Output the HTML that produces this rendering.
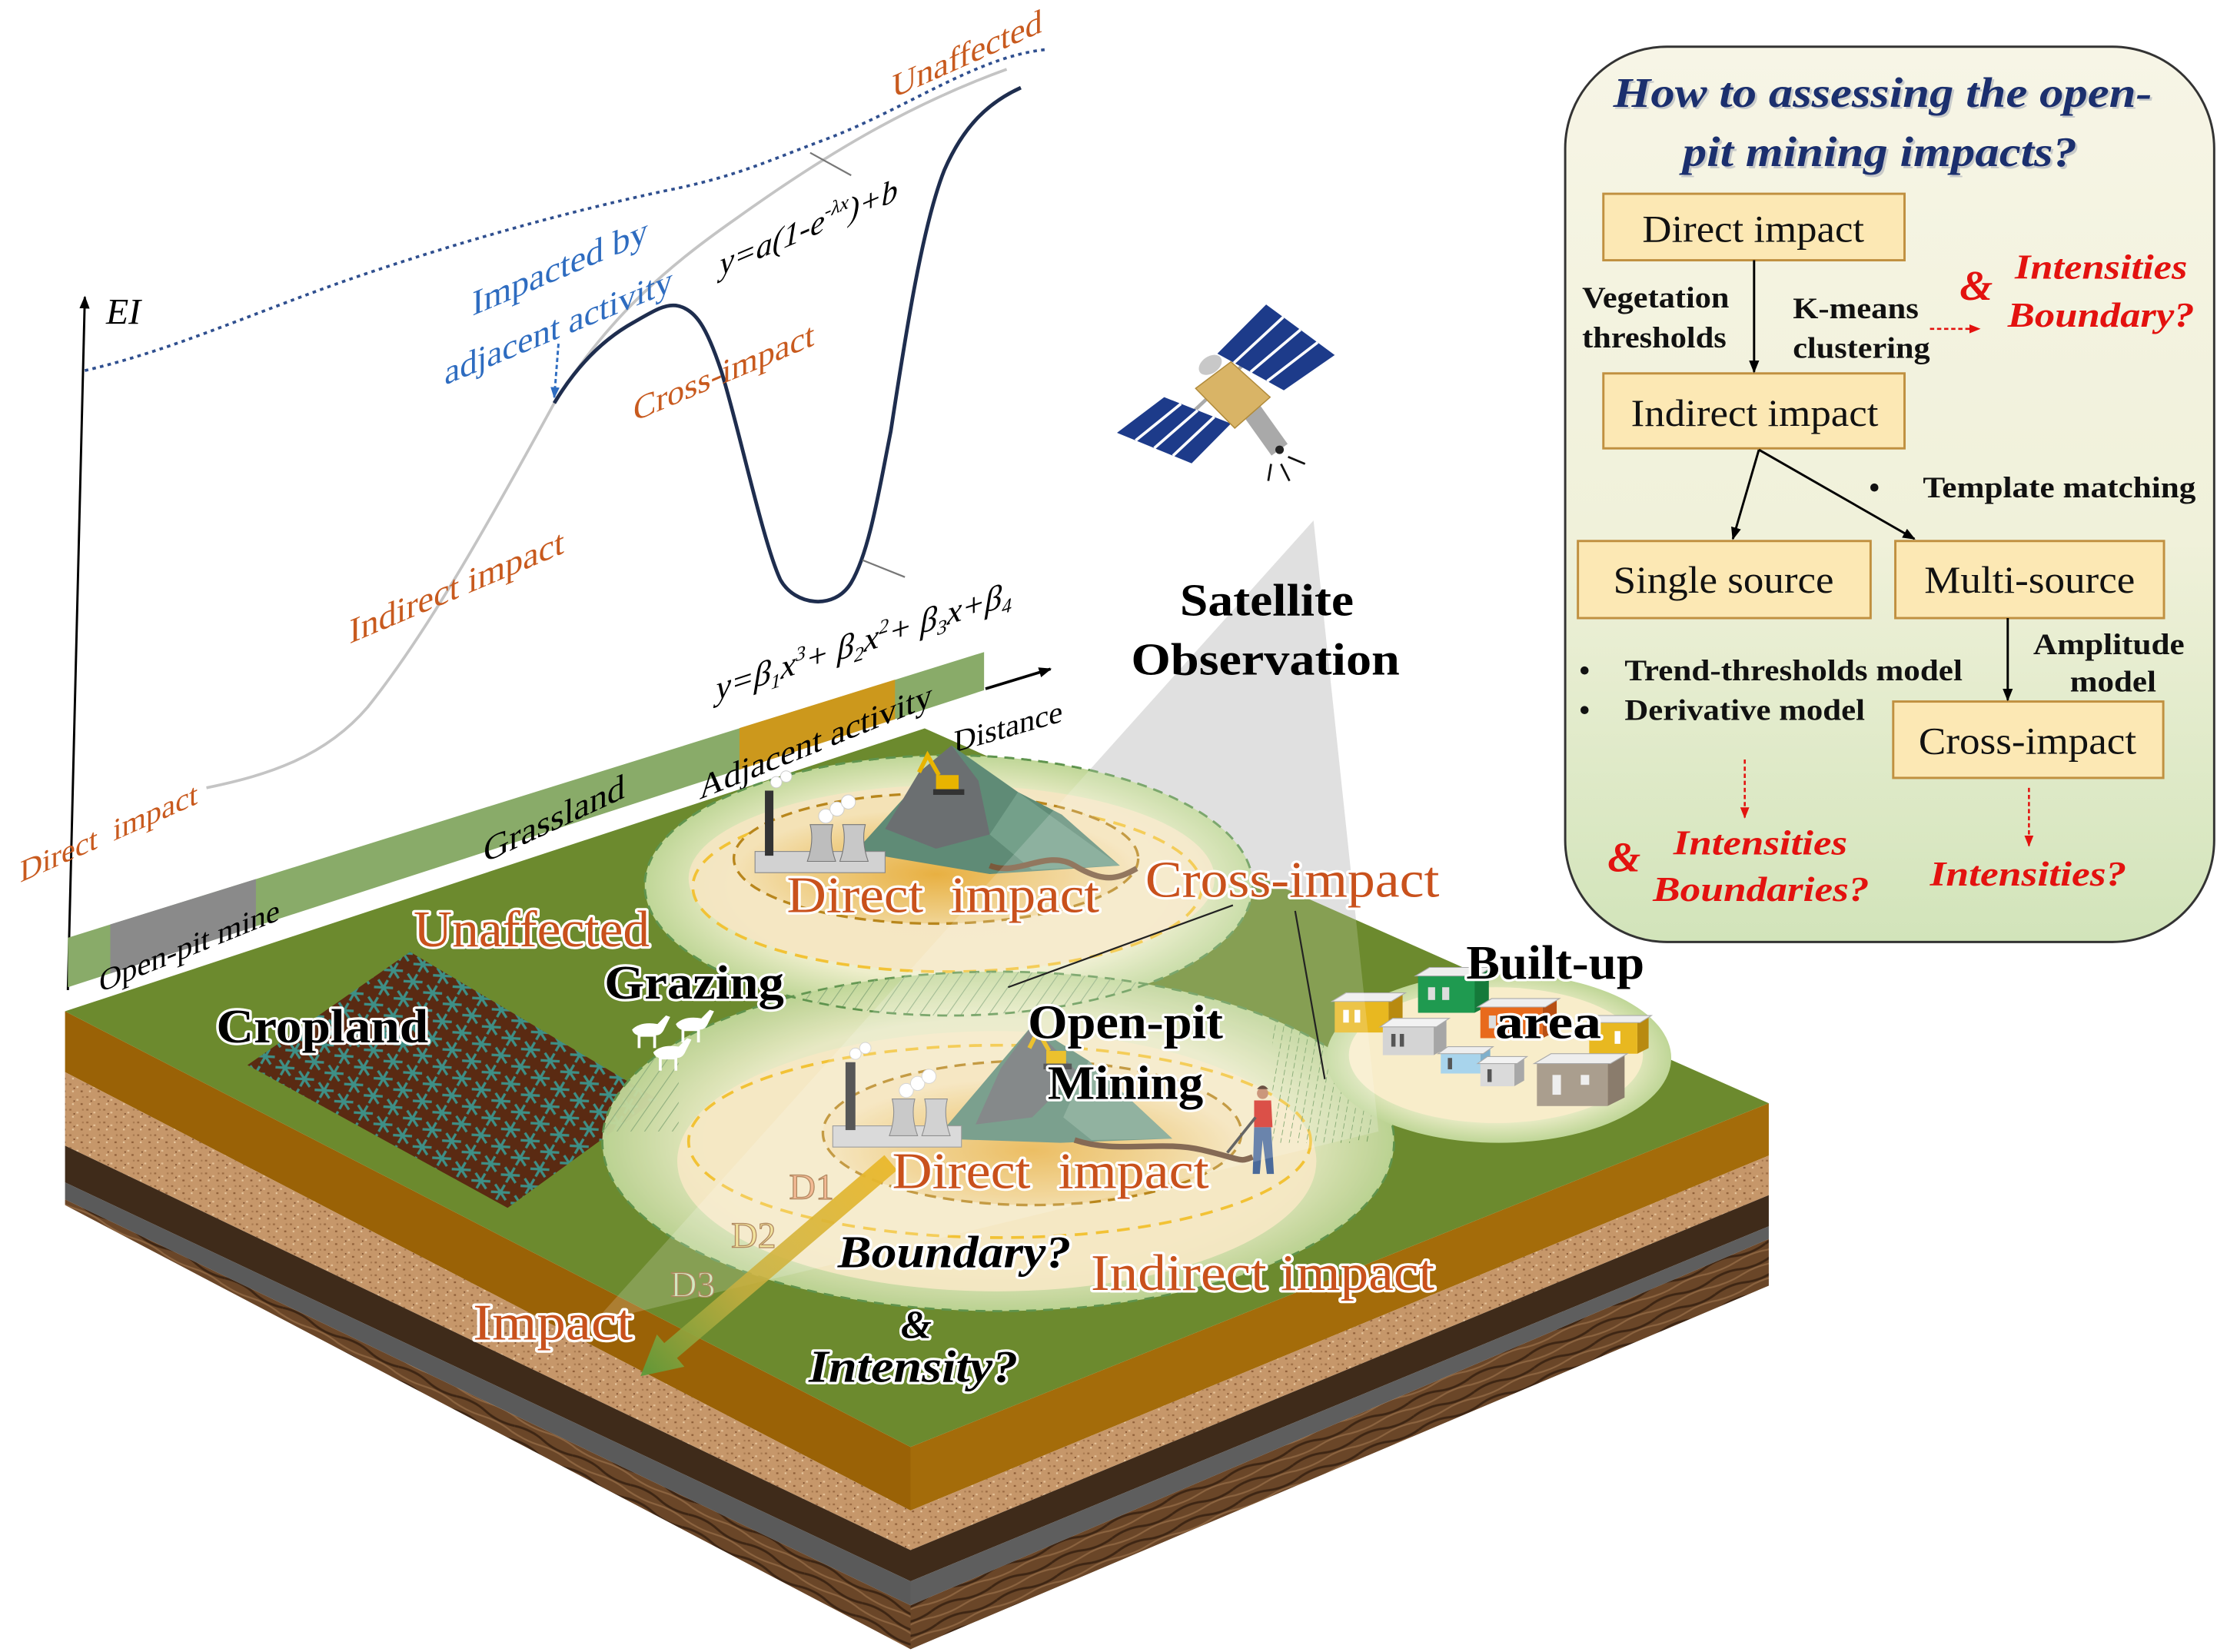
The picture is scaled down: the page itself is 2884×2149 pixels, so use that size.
<!DOCTYPE html>
<html><head><meta charset="utf-8">
<style>
html,body{margin:0;padding:0;background:#fff;}
svg{display:block;}
text{font-family:"Liberation Serif","DejaVu Serif",serif;}
.ol{stroke:#fff;stroke-width:3.5;paint-order:stroke;stroke-linejoin:round;}
.or{fill:#c9511c;}
.bk{fill:#000;font-weight:bold;}
.bx{fill:#111;}
.bd{fill:#111;font-weight:bold;}
.rd{fill:#e3120f;font-weight:bold;font-style:italic;}
</style></head>
<body>
<svg xmlns="http://www.w3.org/2000/svg" width="2884" height="2149" viewBox="0 0 1568 1168" preserveAspectRatio="none">
<defs>
 <linearGradient id="boxg" x1="0" y1="0" x2="0" y2="1">
  <stop offset="0" stop-color="#f7f5e6"/>
  <stop offset="0.55" stop-color="#f0f1da"/>
  <stop offset="1" stop-color="#d2e4ba"/>
 </linearGradient>
 <radialGradient id="halo" cx="0.5" cy="0.5" r="0.5">
  <stop offset="0" stop-color="#f6ebcd"/>
  <stop offset="0.72" stop-color="#eeeecb"/>
  <stop offset="1" stop-color="#bfd697"/>
 </radialGradient>
 <radialGradient id="direct" cx="0.5" cy="0.62" r="0.5">
  <stop offset="0" stop-color="#e8b042"/>
  <stop offset="0.65" stop-color="#efcf88"/>
  <stop offset="1" stop-color="#f4e2b6"/>
 </radialGradient>
 <linearGradient id="arrowg" x1="630" y1="822" x2="453" y2="973" gradientUnits="userSpaceOnUse">
  <stop offset="0" stop-color="#eab82c" stop-opacity="0.95"/>
  <stop offset="0.6" stop-color="#c9b040" stop-opacity="0.85"/>
  <stop offset="1" stop-color="#5c9a3a" stop-opacity="0.95"/>
 </linearGradient>
 <pattern id="sand" width="12" height="9" patternUnits="userSpaceOnUse">
  <rect width="12" height="9" fill="#c6976a"/>
  <rect x="1" y="1" width="1.5" height="1.2" fill="#9a6a42"/>
  <rect x="6" y="3" width="1.5" height="1.2" fill="#e4c198"/>
  <rect x="9" y="6" width="1.5" height="1.2" fill="#8e5e38"/>
  <rect x="3" y="6" width="1.2" height="1.2" fill="#e8c8a0"/>
  <rect x="10" y="1" width="1.2" height="1.2" fill="#a87a50"/>
  <rect x="4" y="4" width="1" height="1" fill="#7e5030"/>
 </pattern>
 <pattern id="soilL" width="46" height="10" patternUnits="userSpaceOnUse" patternTransform="rotate(27)">
  <rect width="46" height="10" fill="#6a4628"/>
  <path d="M0,3 Q12,0 23,3 T46,3" stroke="#3e2614" stroke-width="1.6" fill="none"/>
  <path d="M0,7.5 Q12,9 23,7 T46,7.5" stroke="#8c6440" stroke-width="1.2" fill="none"/>
 </pattern>
 <pattern id="soilR" width="46" height="10" patternUnits="userSpaceOnUse" patternTransform="rotate(-22)">
  <rect width="46" height="10" fill="#6a4628"/>
  <path d="M0,3 Q12,0 23,3 T46,3" stroke="#3e2614" stroke-width="1.6" fill="none"/>
  <path d="M0,7.5 Q12,9 23,7 T46,7.5" stroke="#8c6440" stroke-width="1.2" fill="none"/>
 </pattern>
 <pattern id="crop" width="16" height="14" patternUnits="userSpaceOnUse" patternTransform="rotate(30)">
  <rect width="16" height="14" fill="#5a2a12"/>
  <path d="M8,1 L8,13 M2,4 L14,10 M2,10 L14,4" stroke="#3e8f86" stroke-width="1.8"/>
 </pattern>
 <pattern id="hatchD" width="8" height="8" patternUnits="userSpaceOnUse" patternTransform="rotate(35)">
  <line x1="0" y1="0" x2="0" y2="8" stroke="#8fae7e" stroke-width="1.2"/>
 </pattern>
 <pattern id="hatchV" width="6" height="6" patternUnits="userSpaceOnUse" patternTransform="rotate(10)">
  <line x1="0" y1="0" x2="0" y2="6" stroke="#6f9a5a" stroke-width="1" stroke-dasharray="3 2"/>
 </pattern>
 <clipPath id="cUp"><ellipse cx="671" cy="626" rx="215" ry="92"/></clipPath>
 <clipPath id="cLow"><ellipse cx="706" cy="807" rx="280" ry="120"/></clipPath>
 <marker id="ab" viewBox="0 0 10 10" refX="9" refY="5" markerWidth="9" markerHeight="9" orient="auto" markerUnits="userSpaceOnUse"><path d="M0,1 L10,5 L0,9 Z" fill="#000"/></marker>
 <marker id="ar" viewBox="0 0 10 10" refX="9" refY="5" markerWidth="8" markerHeight="8" orient="auto" markerUnits="userSpaceOnUse"><path d="M0,1 L10,5 L0,9 Z" fill="#e3120f"/></marker>
 <marker id="abl" viewBox="0 0 10 10" refX="9" refY="5" markerWidth="8" markerHeight="8" orient="auto" markerUnits="userSpaceOnUse"><path d="M0,1 L10,5 L0,9 Z" fill="#2e6cc0"/></marker>
</defs>

<rect width="1568" height="1168" fill="#fff"/>

<!-- satellite beam (background part) -->
<polygon points="929,368 420,935 975,800" fill="#d9d9d9"/>

<!-- ================= CHART ================= -->
<path d="M60,262 C120,248 170,225 240,200 C320,172 400,150 470,135 C520,125 540,115 580,100 C640,78 690,40 740,35" fill="none" stroke="#2f4f8f" stroke-width="2" stroke-dasharray="2.5 3"/>
<path d="M146,557 C190,548 230,535 260,500 C300,450 340,380 392,285 C430,225 470,190 520,155 C580,112 640,75 712,49" fill="none" stroke="#c4c4c4" stroke-width="2"/>
<path d="M392,285 C410,255 430,238 448,228 C462,220 470,215 478,216 C492,218 500,232 510,262 C522,300 540,385 552,410 C562,428 590,432 602,412 C615,390 622,345 630,305 C640,240 652,160 668,120 C682,88 700,72 722,62" fill="none" stroke="#1e2d4e" stroke-width="2.6"/>
<line x1="573" y1="108" x2="602" y2="124" stroke="#777" stroke-width="1.2"/>
<line x1="610" y1="396" x2="640" y2="408" stroke="#777" stroke-width="1.2"/>
<line x1="48" y1="700" x2="60" y2="210" stroke="#000" stroke-width="1.6" marker-end="url(#ab)"/>
<text x="75" y="229" font-size="26" fill="#000" font-style="italic">EI</text>
<line x1="395" y1="243" x2="392" y2="281" stroke="#2e6cc0" stroke-width="1.6" stroke-dasharray="3 2" marker-end="url(#abl)"/>

<text transform="translate(684,38) skewY(-24)" x="0" y="8" text-anchor="middle" font-size="24" fill="#c85a1e">Unaffected</text>
<text transform="translate(572,160) skewY(-23)" x="0" y="8" text-anchor="middle" font-size="23" fill="#000" font-style="italic">y=a(1-e<tspan dy="-9" font-size="14">-λx</tspan><tspan dy="9">)+b</tspan></text>
<text transform="translate(396,189) skewY(-23)" x="0" y="8" text-anchor="middle" font-size="25" fill="#2e6cc0">Impacted by</text>
<text transform="translate(395,231) skewY(-22.5)" x="0" y="8" text-anchor="middle" font-size="24.5" fill="#2e6cc0">adjacent activity</text>
<text transform="translate(512,263) skewY(-23)" x="0" y="8" text-anchor="middle" font-size="24" fill="#c85a1e">Cross-impact</text>
<text transform="translate(323,415) skewY(-23)" x="0" y="8" text-anchor="middle" font-size="25" fill="#c85a1e">Indirect impact</text>
<text transform="translate(611,453) skewY(-18)" x="0" y="8" text-anchor="middle" font-size="24" fill="#000" font-style="italic">y=β<tspan dy="5" font-size="14">1</tspan><tspan dy="-5">x</tspan><tspan dy="-9" font-size="14">3</tspan><tspan dy="9">+ β</tspan><tspan dy="5" font-size="14">2</tspan><tspan dy="-5">x</tspan><tspan dy="-9" font-size="14">2</tspan><tspan dy="9">+ β</tspan><tspan dy="5" font-size="14">3</tspan><tspan dy="-5">x+β</tspan><tspan dy="5" font-size="14">4</tspan></text>
<text transform="translate(77,588) skewY(-24)" x="0" y="8" text-anchor="middle" font-size="22" fill="#c85a1e" xml:space="preserve">Direct  impact</text>

<!-- axis strip -->
<polygon points="48,663 696,461 696,488 48,698" fill="#89ab69"/>
<polygon points="78,653.6 181,621.5 181,654.9 78,688.3" fill="#8a8a8a"/>
<polygon points="523,514.8 633,480.5 633,508.5 523,544.1" fill="#cc981c"/>
<line x1="697" y1="487" x2="743" y2="473" stroke="#000" stroke-width="2" marker-end="url(#ab)"/>

<!-- ================= BLOCK ================= -->
<!-- left face -->
<polygon points="46,715 644,1023 644,1068 46,758" fill="#9a6206"/>
<polygon points="46,758 644,1068 644,1096 46,810" fill="url(#sand)"/>
<polygon points="46,810 644,1096 644,1118 46,836" fill="#3f2b1a"/>
<polygon points="46,836 644,1118 644,1135 46,848" fill="#5a5a5a"/>
<polygon points="46,848 644,1135 644,1166 46,852" fill="url(#soilL)"/>
<!-- right face -->
<polygon points="644,1023 1251,780 1251,817 644,1068" fill="#a46c0a"/>
<polygon points="644,1068 1251,817 1251,845 644,1096" fill="url(#sand)"/>
<polygon points="644,1096 1251,845 1251,867 644,1118" fill="#3f2b1a"/>
<polygon points="644,1118 1251,867 1251,876 644,1135" fill="#5e5e5e"/>
<polygon points="644,1135 1251,876 1251,909 644,1166" fill="url(#soilR)"/>
<!-- top face -->
<polygon points="46,715 654,515 1251,780 644,1023" fill="#6c8a2e"/>

<!-- strip labels (over top face) -->
<text transform="translate(134,668) skewY(-22)" x="0" y="8" text-anchor="middle" font-size="22" fill="#000">Open-pit mine</text>
<text transform="translate(392,579) skewY(-25)" x="0" y="8" text-anchor="middle" font-size="25" fill="#000">Grassland</text>
<text transform="translate(577,524) skewY(-22)" x="0" y="8" text-anchor="middle" font-size="24" fill="#000">Adjacent activity</text>
<text transform="translate(713,513) skewY(-16)" x="0" y="8" text-anchor="middle" font-size="22" fill="#000">Distance</text>

<!-- cropland -->
<polygon points="290,673 465,777 359,854 175,753" fill="url(#crop)"/>

<!-- upper circle -->
<ellipse cx="671" cy="626" rx="215" ry="92" fill="url(#halo)" stroke="#5f944e" stroke-width="1.5" stroke-dasharray="7 5"/>
<ellipse cx="673" cy="621" rx="186" ry="66" fill="#f5e6c2" opacity="0.9"/>
<ellipse cx="670" cy="627" rx="180" ry="60" fill="none" stroke="#f2c235" stroke-width="2" stroke-dasharray="9 6"/>
<ellipse cx="662" cy="607" rx="143" ry="46" fill="url(#direct)" stroke="#b8861c" stroke-width="1.8" stroke-dasharray="8 5"/>

<!-- lower circle -->
<ellipse cx="706" cy="807" rx="280" ry="120" fill="url(#halo)" opacity="0.95" stroke="#5f944e" stroke-width="1.5" stroke-dasharray="7 5"/>
<ellipse cx="705" cy="821" rx="226" ry="92" fill="#f6e8c4" opacity="0.9"/>
<ellipse cx="707" cy="807" rx="220" ry="68" fill="none" stroke="#f2c235" stroke-width="2" stroke-dasharray="9 6"/>
<ellipse cx="730" cy="801" rx="148" ry="51" fill="url(#direct)" stroke="#b8861c" stroke-width="1.8" stroke-dasharray="8 5"/>

<!-- lens hatch -->
<g clip-path="url(#cUp)"><rect clip-path="url(#cLow)" x="520" y="660" width="420" height="80" fill="url(#hatchD)"/></g>
<ellipse cx="671" cy="626" rx="215" ry="92" fill="none" stroke="#5f944e" stroke-width="1.5" stroke-dasharray="7 5"/>
<g clip-path="url(#cLow)">
 <rect x="900" y="718" width="70" height="90" fill="url(#hatchV)"/>
 <rect x="424" y="748" width="56" height="52" fill="url(#hatchD)"/>
</g>

<!-- built-up circle -->
<ellipse cx="1060" cy="748" rx="122" ry="60" fill="url(#halo)"/>
<ellipse cx="1058" cy="746" rx="104" ry="48" fill="#f8edca"/>

<!-- houses -->
<g stroke-width="0.6">
 <g><polygon points="1003,690 1043,690 1053,685 1053,711 1043,716 1003,716" fill="#157a3a"/><rect x="1003" y="690" width="40" height="26" fill="#1f9a50"/><polygon points="1001,690 1045,690 1055,684 1011,684" fill="#eee" stroke="#aaa"/><rect x="1010" y="698" width="5" height="9" fill="#ddd"/><rect x="1020" y="698" width="5" height="9" fill="#ddd"/></g>
 <g><polygon points="982,708 992,703 992,725 982,730" fill="#b88a10"/><rect x="944" y="708" width="38" height="22" fill="#e8b820"/><polygon points="942,708 984,708 994,702 952,702" fill="#eee" stroke="#aaa"/><rect x="950" y="714" width="4" height="9" fill="#fff"/><rect x="958" y="714" width="4" height="9" fill="#fff"/></g>
 <g><polygon points="1091,712 1101,707 1101,729 1091,734" fill="#b84f12"/><rect x="1047" y="712" width="44" height="22" fill="#e86a1c"/><polygon points="1045,712 1093,712 1103,706 1055,706" fill="#eee" stroke="#aaa"/><rect x="1053" y="718" width="5" height="9" fill="#ddd"/></g>
 <g><polygon points="1014,726 1023,721 1023,741 1014,746" fill="#a6a6a6"/><rect x="978" y="726" width="36" height="20" fill="#d4d4d4"/><polygon points="976,726 1016,726 1025,720 985,720" fill="#f2f2f2" stroke="#aaa"/><rect x="984" y="731" width="3" height="9" fill="#555"/><rect x="990" y="731" width="3" height="9" fill="#555"/></g>
 <g><polygon points="1158,723 1166,719 1166,741 1158,745" fill="#b88a10"/><rect x="1124" y="723" width="34" height="22" fill="#e8b820"/><polygon points="1122,723 1160,723 1168,718 1130,718" fill="#eee" stroke="#aaa"/><rect x="1142" y="729" width="4" height="9" fill="#fff"/></g>
 <g><polygon points="1047,745 1054,741 1054,755 1047,759" fill="#7fb0cc"/><rect x="1019" y="745" width="28" height="14" fill="#a8d4ec"/><polygon points="1017,745 1049,745 1056,740 1024,740" fill="#eee" stroke="#aaa"/><rect x="1024" y="748" width="3" height="8" fill="#555"/></g>
 <g><polygon points="1071,752 1078,748 1078,764 1071,768" fill="#a8a8a8"/><rect x="1047" y="752" width="24" height="16" fill="#dadada"/><polygon points="1045,752 1073,752 1080,747 1052,747" fill="#f2f2f2" stroke="#aaa"/><rect x="1052" y="756" width="3" height="9" fill="#555"/></g>
 <g><polygon points="1137,752 1149,746 1149,776 1137,782" fill="#8a7c6c"/><rect x="1087" y="752" width="50" height="30" fill="#aa9e8e"/><polygon points="1085,752 1139,752 1151,745 1097,745" fill="#eee" stroke="#aaa"/><rect x="1098" y="760" width="6" height="14" fill="#eee"/><rect x="1118" y="760" width="6" height="7" fill="#eee"/></g>
</g>

<!-- animals -->
<g fill="#fff">
 <path d="M447,728 q6,-6 18,-4 l6,-6 l3,1 l-4,8 q-2,5 -6,5 l0,9 l-2,0 l0,-8 l-9,0 l0,8 l-2,0 l0,-9 q-3,-1 -4,-4z"/>
 <path d="M478,724 q6,-6 18,-4 l6,-6 l3,1 l-4,8 q-2,5 -6,5 l0,9 l-2,0 l0,-8 l-9,0 l0,8 l-2,0 l0,-9 q-3,-1 -4,-4z"/>
 <path d="M462,744 q6,-6 18,-4 l6,-6 l3,1 l-4,8 q-2,5 -6,5 l0,9 l-2,0 l0,-8 l-9,0 l0,8 l-2,0 l0,-9 q-3,-1 -4,-4z"/>
</g>

<!-- upper mountain & factory -->
<polygon points="605,602 673,527 720,560 751,576 792,612 700,618" fill="#5f8b76"/>
<polygon points="673,527 650,546 626,586 662,600 700,590 692,552" fill="#6b6f71"/>
<polygon points="720,560 792,612 730,615 700,590" fill="#74a08a"/>
<path d="M700,612 C720,620 740,600 760,612 S790,622 804,614" stroke="#7b5a3c" stroke-width="4" fill="none"/>
<g transform="translate(648,534)">
 <rect x="14" y="14" width="16" height="10" fill="#e8b400"/><path d="M16,14 L8,0 L2,12" stroke="#e8b400" stroke-width="3" fill="none"/><rect x="12" y="24" width="22" height="4" fill="#333"/>
</g>
<g transform="translate(534,617)">
 <rect x="0" y="-15" width="92" height="15" fill="#d2d2d2" stroke="#888" stroke-width="0.6"/>
 <rect x="7" y="-58" width="6" height="46" fill="#333"/>
 <path d="M37,-8 Q42,-22 39,-34 L55,-34 Q52,-22 57,-8 Z" fill="#bdbdbd" stroke="#777" stroke-width="0.6"/>
 <path d="M60,-8 Q65,-22 62,-34 L78,-34 Q75,-22 80,-8 Z" fill="#c8c8c8" stroke="#777" stroke-width="0.6"/>
 <g fill="#fff" stroke="#ccc" stroke-width="0.5"><circle cx="50" cy="-40" r="5"/><circle cx="58" cy="-45" r="5"/><circle cx="66" cy="-50" r="5"/><circle cx="15" cy="-64" r="4"/><circle cx="22" cy="-68" r="4"/></g>
</g>

<!-- lower mountain & factory -->
<polygon points="662,805 730,725 770,750 829,805 750,808" fill="#5f8b76"/>
<polygon points="730,725 708,755 690,795 730,790 762,758" fill="#6b6f71"/>
<polygon points="770,750 829,805 772,806 752,790" fill="#79a28c"/>
<path d="M760,806 C790,816 820,806 850,813 S876,822 886,818" stroke="#6b4a30" stroke-width="4" fill="none"/>
<g transform="translate(726,729)">
 <rect x="14" y="14" width="14" height="9" fill="#e8b400"/><path d="M16,14 L8,0 L2,12" stroke="#e8b400" stroke-width="3" fill="none"/><rect x="12" y="23" width="20" height="4" fill="#333"/>
</g>
<g transform="translate(589,811)">
 <rect x="0" y="-15" width="91" height="15" fill="#d2d2d2" stroke="#888" stroke-width="0.6"/>
 <rect x="9" y="-60" width="7" height="48" fill="#333"/>
 <path d="M40,-8 Q45,-22 42,-34 L58,-34 Q55,-22 60,-8 Z" fill="#bdbdbd" stroke="#777" stroke-width="0.6"/>
 <path d="M63,-8 Q68,-22 65,-34 L81,-34 Q78,-22 83,-8 Z" fill="#c8c8c8" stroke="#777" stroke-width="0.6"/>
 <g fill="#fff" stroke="#ccc" stroke-width="0.5"><circle cx="52" cy="-40" r="5"/><circle cx="60" cy="-45" r="5"/><circle cx="68" cy="-50" r="5"/><circle cx="16" cy="-66" r="4"/><circle cx="23" cy="-70" r="4"/></g>
</g>

<!-- person -->
<g>
 <circle cx="893" cy="773" r="4" fill="#c08060"/>
 <path d="M889,770 q4,-5 8,0" fill="#4a2a1a"/>
 <polygon points="887,778 899,778 900,797 887,797" fill="#d42a20"/>
 <polygon points="887,797 899,797 901,830 896,830 893,806 891,830 886,830" fill="#4a6a9a"/>
 <line x1="888" y1="790" x2="868" y2="815" stroke="#444" stroke-width="2"/>
</g>

<!-- beam overlay on surface -->
<polygon points="929,368 420,935 975,800" fill="#fff" opacity="0.18"/>

<!-- impact arrow -->
<polygon points="634.5,827.3 478.8,960.2 484,966.3 453,973 464.6,943.5 469.8,949.6 625.5,816.7" fill="url(#arrowg)"/>

<!-- leader lines -->
<line x1="872" y1="640" x2="713" y2="698" stroke="#222" stroke-width="1.2"/>
<line x1="916" y1="644" x2="937" y2="763" stroke="#222" stroke-width="1.2"/>

<!-- surface labels -->
<g font-size="36">
<text class="or ol" x="376" y="669" text-anchor="middle" textLength="167" lengthAdjust="spacingAndGlyphs">Unaffected</text>
<text class="or ol" x="667" y="645" text-anchor="middle" textLength="221" lengthAdjust="spacingAndGlyphs" xml:space="preserve">Direct  impact</text>
<text class="or ol" x="914" y="634" text-anchor="middle" textLength="208" lengthAdjust="spacingAndGlyphs">Cross-impact</text>
<text class="or ol" x="743" y="840" text-anchor="middle" textLength="224" lengthAdjust="spacingAndGlyphs" xml:space="preserve">Direct  impact</text>
<text class="or ol" x="893" y="912" text-anchor="middle" textLength="243" lengthAdjust="spacingAndGlyphs">Indirect impact</text>
<text class="or ol" x="391" y="947" text-anchor="middle" textLength="113" lengthAdjust="spacingAndGlyphs">Impact</text>
</g>
<g font-size="34">
<text class="bk ol" x="491" y="706" text-anchor="middle" textLength="127" lengthAdjust="spacingAndGlyphs">Grazing</text>
<text class="bk ol" x="228" y="737" text-anchor="middle" textLength="150" lengthAdjust="spacingAndGlyphs">Cropland</text>
<text class="bk ol" x="796" y="734" text-anchor="middle" textLength="138" lengthAdjust="spacingAndGlyphs">Open-pit</text>
<text class="bk ol" x="796" y="777" text-anchor="middle" textLength="110" lengthAdjust="spacingAndGlyphs">Mining</text>
<text class="bk ol" x="1100" y="692" text-anchor="middle" textLength="126" lengthAdjust="spacingAndGlyphs">Built-up</text>
<text class="bk ol" x="1095" y="734" text-anchor="middle" textLength="75" lengthAdjust="spacingAndGlyphs">area</text>
</g>
<g font-size="26" stroke="#b08860" stroke-width="0.7">
<text x="574" y="848" text-anchor="middle" fill="#f3b994">D1</text>
<text x="533" y="882" text-anchor="middle" fill="#f1e29c">D2</text>
<text x="490" y="917" text-anchor="middle" fill="#d2e8c0">D3</text>
</g>
<g font-size="32" font-style="italic">
<text class="bk ol" x="675" y="896" text-anchor="middle" textLength="165" lengthAdjust="spacingAndGlyphs">Boundary?</text>
<text class="bk ol" x="646" y="977" text-anchor="middle" textLength="148" lengthAdjust="spacingAndGlyphs">Intensity?</text>
</g>
<text class="bk ol" x="648" y="946" text-anchor="middle" font-size="28" font-style="italic">&amp;</text>

<!-- satellite -->
<text x="896" y="435" text-anchor="middle" font-size="32" font-weight="bold" fill="#000" textLength="123" lengthAdjust="spacingAndGlyphs">Satellite</text>
<text x="895" y="477" text-anchor="middle" font-size="32" font-weight="bold" fill="#000" textLength="190" lengthAdjust="spacingAndGlyphs">Observation</text>

<g>
 <line x1="830" y1="304" x2="892" y2="246" stroke="#aaa" stroke-width="2.5"/>
 <polygon points="861,250 895.5,215.3 944,251 908,276" fill="#1d3b8a"/>
 <g stroke="#fff" stroke-width="2"><line x1="872.75" y1="256.5" x2="907.6" y2="224.2"/><line x1="884.5" y1="263" x2="919.75" y2="233.15"/><line x1="896.25" y1="269.5" x2="931.9" y2="242.1"/></g>
 <polygon points="790,306 823.4,280.8 870.6,299.5 842.8,327.6" fill="#1d3b8a"/>
 <g stroke="#fff" stroke-width="2"><line x1="803.2" y1="311.4" x2="835.2" y2="285.5"/><line x1="816.4" y1="316.8" x2="847" y2="290.15"/><line x1="829.6" y1="322.2" x2="858.8" y2="294.8"/></g>
 <ellipse cx="856" cy="258" rx="9" ry="6" transform="rotate(-35 856 258)" fill="#c8c8c8"/>
 <polygon points="890.7,285.9 910.7,313.9 899.3,322.1 879.3,294.1" fill="#a9a9a9"/>
 <polygon points="845.6,274.6 870.6,255.8 898.3,280.8 873.3,302.7" fill="#d9b466" stroke="#b08a3a" stroke-width="0.8"/>
 <circle cx="905" cy="318" r="3" fill="#222"/>
 <g stroke="#111" stroke-width="1.5"><line x1="899" y1="328" x2="897" y2="340"/><line x1="906" y1="328" x2="912" y2="340"/><line x1="911" y1="323" x2="923" y2="328"/></g>
</g>

<!-- ================= FLOWCHART BOX ================= -->
<rect x="1107" y="33" width="459" height="633" rx="72" ry="72" fill="url(#boxg)" stroke="#333" stroke-width="1.6"/>
<g font-size="30" font-weight="bold" font-style="italic" text-anchor="middle">
<text x="1333" y="77" fill="#9aa0b0" opacity="0.5" textLength="381" lengthAdjust="spacingAndGlyphs">How to assessing the open-</text>
<text x="1331.5" y="75.5" fill="#1b2f6e" textLength="381" lengthAdjust="spacingAndGlyphs">How to assessing the open-</text>
<text x="1331" y="119" fill="#9aa0b0" opacity="0.5" textLength="279" lengthAdjust="spacingAndGlyphs">pit mining impacts?</text>
<text x="1329.5" y="117.5" fill="#1b2f6e" textLength="279" lengthAdjust="spacingAndGlyphs">pit mining impacts?</text>
</g>

<g fill="#fce8b4" stroke="#c09040" stroke-width="1.6">
<rect x="1134" y="137" width="213" height="47"/>
<rect x="1134" y="264" width="213" height="53"/>
<rect x="1116" y="382.5" width="207" height="54.5"/>
<rect x="1340.5" y="382.5" width="190" height="54.5"/>
<rect x="1339" y="496" width="191" height="54"/>
</g>
<g font-size="27" text-anchor="middle" class="bx">
<text x="1240" y="171" textLength="157" lengthAdjust="spacingAndGlyphs">Direct impact</text>
<text x="1241" y="301" textLength="175" lengthAdjust="spacingAndGlyphs">Indirect impact</text>
<text x="1219" y="419" textLength="156" lengthAdjust="spacingAndGlyphs">Single source</text>
<text x="1435.5" y="419" textLength="149" lengthAdjust="spacingAndGlyphs">Multi-source</text>
<text x="1434" y="533" textLength="154" lengthAdjust="spacingAndGlyphs">Cross-impact</text>
</g>

<g stroke="#000" stroke-width="1.6">
<line x1="1240.6" y1="184" x2="1240.6" y2="263" marker-end="url(#ab)"/>
<line x1="1244" y1="318" x2="1225.6" y2="381" marker-end="url(#ab)"/>
<line x1="1244" y1="318" x2="1354" y2="381" marker-end="url(#ab)"/>
<line x1="1420" y1="437" x2="1420" y2="495" marker-end="url(#ab)"/>
</g>
<g stroke="#e3120f" stroke-width="1.4" stroke-dasharray="3 2">
<line x1="1365" y1="232.5" x2="1400" y2="232.5" marker-end="url(#ar)"/>
<line x1="1234" y1="537" x2="1234" y2="578" marker-end="url(#ar)"/>
<line x1="1435" y1="557" x2="1435" y2="598" marker-end="url(#ar)"/>
</g>

<g font-size="21" class="bd">
<text x="1119" y="217.5" textLength="104" lengthAdjust="spacingAndGlyphs">Vegetation</text>
<text x="1119" y="245.6" textLength="102" lengthAdjust="spacingAndGlyphs">thresholds</text>
<text x="1268" y="225" textLength="89" lengthAdjust="spacingAndGlyphs">K-means</text>
<text x="1268" y="253" textLength="97" lengthAdjust="spacingAndGlyphs">clustering</text>
<text x="1322" y="351.6">•</text>
<text x="1360" y="351.6" textLength="193" lengthAdjust="spacingAndGlyphs">Template matching</text>
<text x="1117" y="481">•</text>
<text x="1149" y="481" textLength="239" lengthAdjust="spacingAndGlyphs">Trend-thresholds model</text>
<text x="1117" y="509">•</text>
<text x="1149" y="509" textLength="170" lengthAdjust="spacingAndGlyphs">Derivative model</text>
<text x="1438" y="462.5" textLength="107" lengthAdjust="spacingAndGlyphs">Amplitude</text>
<text x="1464" y="489" textLength="61" lengthAdjust="spacingAndGlyphs">model</text>
</g>

<g class="rd">
<text x="1386" y="212" font-size="30">&amp;</text>
<text x="1425" y="197" font-size="25" textLength="122" lengthAdjust="spacingAndGlyphs">Intensities</text>
<text x="1420" y="231" font-size="25" textLength="132" lengthAdjust="spacingAndGlyphs">Boundary?</text>
<text x="1137" y="616" font-size="30">&amp;</text>
<text x="1183.5" y="604" font-size="25" textLength="123" lengthAdjust="spacingAndGlyphs">Intensities</text>
<text x="1169" y="637" font-size="25" textLength="153" lengthAdjust="spacingAndGlyphs">Boundaries?</text>
<text x="1365" y="626" font-size="25" textLength="139" lengthAdjust="spacingAndGlyphs">Intensities?</text>
</g>
</svg>
</body></html>
